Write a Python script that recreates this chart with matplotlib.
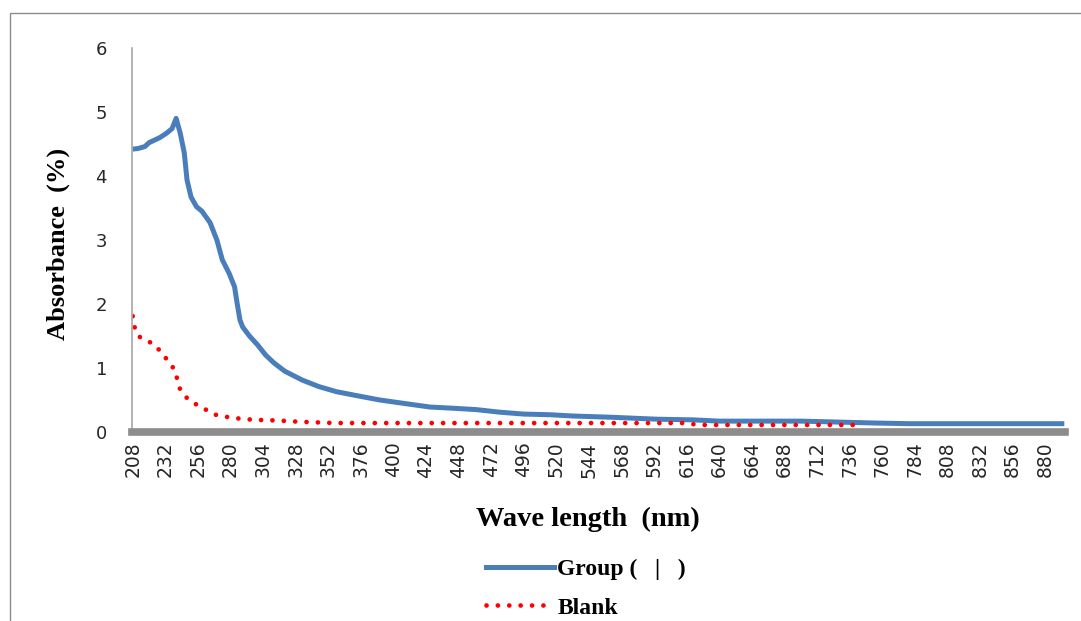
import matplotlib
matplotlib.use("Agg")
import matplotlib.pyplot as plt
from matplotlib.lines import Line2D
from matplotlib.patches import Rectangle

# ---- data ----
group_nm = [208, 212, 217, 220, 224, 228, 233, 237, 240, 243, 246, 248, 251, 255,
            259, 265, 270, 274, 279, 283, 285, 287, 289, 294, 300, 306, 312, 320,
            333, 345, 358, 375, 390, 410, 427, 445, 461, 478, 496, 515, 532, 561,
            594, 620, 640, 700, 755, 780, 894]
group_abs = [4.42, 4.43, 4.46, 4.52, 4.56, 4.60, 4.67, 4.74, 4.90, 4.67, 4.36, 3.94,
             3.67, 3.52, 3.45, 3.27, 3.00, 2.69, 2.48, 2.27, 2.00, 1.75, 1.64, 1.50,
             1.36, 1.20, 1.08, 0.95, 0.81, 0.71, 0.63, 0.56, 0.50, 0.44, 0.39, 0.37,
             0.35, 0.31, 0.28, 0.27, 0.25, 0.23, 0.20, 0.19, 0.17, 0.17, 0.14, 0.13,
             0.13]

blank_nm = [208, 209, 212, 217, 223, 229, 234, 239, 241, 243, 248, 254, 260, 267,
            273, 282, 291, 299, 314, 331, 357, 400, 500, 615, 625, 746]
blank_abs = [1.81, 1.66, 1.50, 1.44, 1.38, 1.25, 1.11, 0.97, 0.81, 0.66, 0.53, 0.44,
             0.375, 0.28, 0.25, 0.22, 0.20, 0.19, 0.18, 0.16, 0.14, 0.14, 0.14, 0.14,
             0.11, 0.11]

x_ticks = list(range(208, 881, 24))
y_ticks = [0, 1, 2, 3, 4, 5, 6]

series_names = ["Group (   |   )", "Blank"]

# ---- figure ----
W, H = 1081, 621
fig = plt.figure(figsize=(W / 100, H / 100), dpi=100)
fig.patch.set_facecolor("white")

# outer chart border
fig.add_artist(Rectangle((10 / W, -0.1), 1.2, 1 - 13 / H + 0.1, transform=fig.transFigure,
                         fill=False, edgecolor="#8c8c8c", linewidth=1.0))

ax = fig.add_axes([132 / W, 1 - 432 / H, (1065 - 132) / W, (432 - 48) / H])

blue = "#4a7ebb"
red = "#ff0000"
dots = (0, (0.01, 2.4))
ax.plot(group_nm, group_abs, color=blue, linewidth=3.6, solid_capstyle="butt",
        solid_joinstyle="round", label=series_names[0])
ax.plot(blank_nm, blank_abs, color=red, linewidth=3.4, linestyle=dots,
        dash_capstyle="round", label=series_names[1])

ax.set_xlim(207.5, 894.5)
ax.set_ylim(0, 6)
tick_font = "DejaVu Sans"
ax.set_xticks(x_ticks)
ax.set_xticklabels([str(v) for v in x_ticks], rotation=90, fontsize=13.5,
                   family=tick_font, color="#262626")
ax.set_yticks(y_ticks)
ax.set_yticklabels([str(v) for v in y_ticks], fontsize=13, family=tick_font,
                   color="#262626")
ax.tick_params(axis="y", length=0, pad=18)
ax.tick_params(axis="x", length=0, pad=7)

for s in ("top", "right"):
    ax.spines[s].set_visible(False)
ax.spines["left"].set_color("#a6a6a6")
ax.spines["left"].set_linewidth(1.2)
ax.spines["bottom"].set_color("#8c8c8c")
ax.spines["bottom"].set_linewidth(5.5)

serif = "Liberation Serif"
fig.text(58 / W, 1 - 244 / H, "Absorbance  (%)", rotation=90, ha="center", va="center",
         fontsize=19, fontweight="bold", family=serif)
fig.text(588 / W, 1 - 519 / H, "Wave length  (nm)", ha="center", va="center",
         fontsize=20.5, fontweight="bold", family=serif)

handles = [Line2D([], [], color=blue, linewidth=3.6),
           Line2D([], [], color=red, linewidth=3.4, linestyle=dots,
                  dash_capstyle="round")]
leg = fig.legend(handles, series_names, loc="upper left",
                 bbox_to_anchor=(477 / W, 1 - 549 / H), frameon=False,
                 prop={"family": serif, "weight": "bold", "size": 17},
                 handlelength=2.85, handletextpad=0.15, labelspacing=0.72,
                 borderaxespad=0)

fig.savefig("out.png", dpi=100, facecolor="white")
